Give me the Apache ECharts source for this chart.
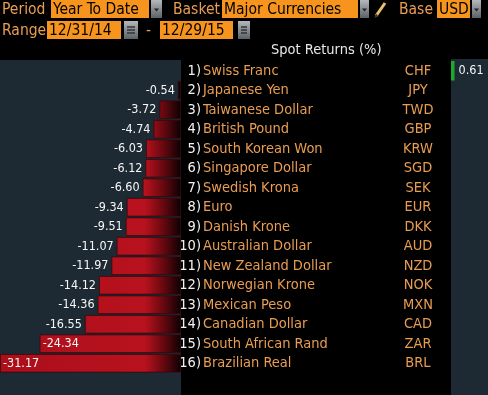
<!DOCTYPE html>
<html><head><meta charset="utf-8">
<script src="https://cdn.jsdelivr.net/npm/echarts@6/dist/echarts.min.js"></script>
<style>html,body{margin:0;padding:0;background:#000;}#c{width:488px;height:395px;}</style>
</head><body><div id="c"></div>
<script>
const ranks = ['1)','2)','3)','4)','5)','6)','7)','8)','9)','10)','11)','12)','13)','14)','15)','16)'];
const currencies = ['Swiss Franc','Japanese Yen','Taiwanese Dollar','British Pound','South Korean Won','Singapore Dollar','Swedish Krona','Euro','Danish Krone','Australian Dollar','New Zealand Dollar','Norwegian Krone','Mexican Peso','Canadian Dollar','South African Rand','Brazilian Real'];
const codes = ['CHF','JPY','TWD','GBP','KRW','SGD','SEK','EUR','DKK','AUD','NZD','NOK','MXN','CAD','ZAR','BRL'];
const spotReturns = [0.61,-0.54,-3.72,-4.74,-6.03,-6.12,-6.60,-9.34,-9.51,-11.07,-11.97,-14.12,-14.36,-16.55,-24.34,-31.17];
const chartTitle = 'Spot Returns (%)';
const periodLabel = 'Period', periodValue = 'Year To Date';
const basketLabel = 'Basket', basketValue = 'Major Currencies';
const baseLabel = 'Base', baseValue = 'USD';
const rangeLabel = 'Range', rangeStart = '12/31/14', rangeEnd = '12/29/15';

const chart = echarts.init(document.getElementById('c'));
const HF = 'Liberation Sans Narrow, DejaVu Sans Condensed, sans-serif';
const LF = 'DejaVu Sans Condensed, sans-serif';
const TAN = '#e99d52';
const ORANGE = '#f7941d';
const LIST_SIZE = 14.5;

function label(x, y, t, color) {
  return {type:'text', x:x, y:y, style:{text:t, fill:color||TAN, font:'15.5px ' + HF, verticalAlign:'middle'}};
}
function box(x, y, w, h, t) {
  return [{type:'rect', shape:{x:x,y:y,width:w,height:h}, style:{fill:ORANGE}},
          {type:'text', x:x+2, y:y+h/2+0.5, style:{text:t, fill:'#000', font:'15.5px ' + HF, verticalAlign:'middle'}}];
}
function btnGrad(){return new echarts.graphic.LinearGradient(0,0,0,1,[{offset:0,color:'#b4b8bc'},{offset:1,color:'#5c6166'}]);}
function dropdown(x, y, w, h) {
  const cx = x + w/2, cy = y + h/2 + 1;
  return [{type:'rect', shape:{x:x,y:y,width:w,height:h}, style:{fill:btnGrad()}},
          {type:'polygon', shape:{points:[[cx-2.5,cy-1.5],[cx+2.5,cy-1.5],[cx,cy+1.5]]}, style:{fill:'#222'}}];
}
function calBtn(x, y, w, h) {
  const els = [{type:'rect', shape:{x:x,y:y,width:w,height:h}, style:{fill:btnGrad()}}];
  [6,9,12].forEach(d => els.push({type:'line', shape:{x1:x+3,y1:y+d,x2:x+w-3,y2:y+d}, style:{stroke:'#333',lineWidth:1.5}}));
  return els;
}

const graphics = [
  {type:'rect', z:-10, shape:{x:0,y:60,width:181,height:335}, style:{fill:'#1d2a33'}},
  {type:'rect', z:-10, shape:{x:451,y:59,width:37,height:336}, style:{fill:'#1d2a33'}},
  label(2, 10, periodLabel),
  ...box(51, 0, 98, 18, periodValue),
  ...dropdown(151, 0, 11, 18),
  label(173, 10, basketLabel),
  ...box(222, 0, 136, 18, basketValue),
  ...dropdown(360, 0, 9, 18),
  {type:'line', shape:{x1:376,y1:16,x2:385,y2:3}, style:{stroke:'#e8c070',lineWidth:3}},
  {type:'line', shape:{x1:375,y1:17.5,x2:377,y2:14.5}, style:{stroke:'#3a3020',lineWidth:2}},
  label(399, 10, baseLabel),
  ...box(437, 0, 33, 18, baseValue),
  ...dropdown(472, 0, 9, 18),
  label(2, 31, rangeLabel),
  ...box(47, 21, 74, 18, rangeStart),
  ...calBtn(124, 21, 14, 18),
  label(146, 31, '-'),
  ...box(160, 21, 73, 18, rangeEnd),
  ...calBtn(238, 21, 12, 18),
  {type:'text', x:271, y:50, style:{text:chartTitle, fill:'#e8e8e8', font:LIST_SIZE + 'px ' + LF, verticalAlign:'middle'}}
];

const redGrad = new echarts.graphic.LinearGradient(0, 0, 181, 0, [
  {offset:0, color:'#aa0f1a'}, {offset:0.8, color:'#b8121e'},
  {offset:0.9, color:'#6a0810'}, {offset:1, color:'#0a0203'}], true);

const negData = spotReturns.map(v => v < 0 ? {value:v, label:{position: v < -20 ? 'insideLeft' : 'left'}} : '-');
const posData = spotReturns.map(v => v > 0 ? v : '-');
const fmt = p => p.value.toFixed(2);

function listAxis(data, align, margin, color) {
  return {type:'category', gridIndex:0, data:data, inverse:true, position:'right', offset:0,
    axisLine:{show:false}, axisTick:{show:false}, splitLine:{show:false},
    axisLabel:{margin:margin, align:align, color:color, fontFamily:LF, fontSize:LIST_SIZE, interval:0}};
}

chart.setOption({
  backgroundColor:'#000',
  animation:false,
  graphic: graphics,
  grid:[{left:0, top:61, width:181, height:312, containLabel:false},
        {left:451, top:61, right:0, height:312, containLabel:false}],
  xAxis:[{type:'value', gridIndex:0, min:-31.17, max:0, show:false},
         {type:'value', gridIndex:1, min:0, max:6.4, show:false}],
  yAxis:[listAxis(ranks, 'right', 20, '#f2f2f2'),
         {type:'category', gridIndex:1, data:currencies, inverse:true, show:false},
         listAxis(currencies, 'left', 22, TAN),
         listAxis(codes, 'center', 237, TAN)],
  series:[
    {type:'bar', xAxisIndex:0, yAxisIndex:0, data:negData, barCategoryGap:'5%',
     itemStyle:{color:redGrad, borderColor:'rgba(60,3,8,0.9)', borderWidth:0.8},
     label:{show:true, color:'#f6f6f6', fontFamily:LF, fontSize:12.5, distance:3, formatter:fmt}},
    {type:'bar', xAxisIndex:1, yAxisIndex:1, data:posData, barCategoryGap:'0%',
     itemStyle:{color:'#1fa82c'},
     label:{show:true, position:'right', distance:4, color:'#f4f4f4', fontFamily:LF, fontSize:12.5, formatter:fmt}}
  ]
});
</script></body></html>
